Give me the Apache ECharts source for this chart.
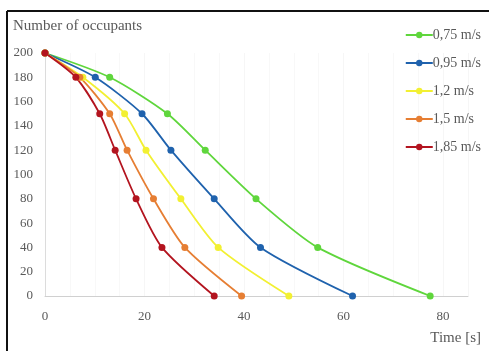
<!DOCTYPE html>
<html>
<head>
<meta charset="utf-8">
<script src="https://cdn.jsdelivr.net/npm/echarts@6/dist/echarts.min.js"></script>
<style>html,body{margin:0;padding:0;background:#fff}#c{width:489px;height:351px}</style>
</head>
<body>
<div id="c"></div>
<script>
var seriesNames = ['0,75 m/s', '0,95 m/s', '1,2 m/s', '1,5 m/s', '1,85 m/s'];
var occupants = [200, 180, 150, 120, 80, 40, 0];
var time075 = [0, 13, 24.6, 32.2, 42.4, 54.8, 77.4];
var time095 = [0, 10.1, 19.5, 25.3, 34, 43.3, 61.8];
var time120 = [0, 7.6, 16, 20.3, 27.3, 34.8, 49];
var time150 = [0, 7, 13, 16.5, 21.8, 28.1, 39.5];
var time185 = [0, 6.2, 11, 14.1, 18.3, 23.5, 34];
var xTicks = [0, 20, 40, 60, 80];
var yTicks = [0, 20, 40, 60, 80, 100, 120, 140, 160, 180, 200];
var colors = ['#5fd63c', '#1f62ad', '#f2f032', '#e67e33', '#b3141f'];

var times = [time075, time095, time120, time150, time185];
var font = 'Liberation Serif';
var chart = echarts.init(document.getElementById('c'));
chart.setOption({
  animation: false,
  color: colors,
  grid: {left: 45, right: 21, top: 53, bottom: 55},
  textStyle: {fontFamily: font},
  legend: {
    orient: 'vertical', right: 3, top: 23, itemGap: 14,
    itemWidth: 27, itemHeight: 8,
    data: seriesNames,
    textStyle: {fontFamily: font, fontSize: 14, color: '#595959', padding: [0, 0, 0, -5]}
  },
  graphic: [
    {type: 'line', shape: {x1: 7, y1: 11, x2: 489, y2: 11}, style: {stroke: '#111', lineWidth: 2}},
    {type: 'line', shape: {x1: 7, y1: 11, x2: 7, y2: 351}, style: {stroke: '#111', lineWidth: 2}},
    {type: 'text', left: 13, top: 19, style: {text: 'Number of occupants', font: '15px "Liberation Serif"', fill: '#595959'}},
    {type: 'text', right: 8, top: 331, style: {text: 'Time [s]', font: '15px "Liberation Serif"', fill: '#595959'}}
  ],
  xAxis: {
    type: 'value', min: 0, max: 85, interval: 20,
    axisLine: {show: true, lineStyle: {color: '#d0d0d0', width: 1}},
    axisTick: {show: false},
    axisLabel: {showMaxLabel: false, fontFamily: font, fontSize: 13, color: '#595959', margin: 14,
      formatter: function (v) { return xTicks.indexOf(v) >= 0 ? String(v) : ''; }},
    splitLine: {show: true, lineStyle: {color: '#f6f6f6'}},
    minorSplitLine: {show: true, lineStyle: {color: '#f8f8f8'}},
    minorTick: {show: false, splitNumber: 4}
  },
  yAxis: {
    type: 'value', min: 0, max: 200, interval: 20,
    axisLine: {show: true, lineStyle: {color: '#dcdcdc'}},
    axisTick: {show: false},
    axisLabel: {fontFamily: font, fontSize: 13, color: '#595959', margin: 12,
      formatter: function (v) { return yTicks.indexOf(v) >= 0 ? String(v) : ''; }},
    splitLine: {show: false}
  },
  series: seriesNames.map(function (n, i) {
    return {
      name: n, type: 'line', smooth: 0.25,
      symbol: 'circle', symbolSize: 7,
      lineStyle: {width: 1.8, color: colors[i]},
      itemStyle: {color: colors[i]},
      data: times[i].map(function (t, j) { return [t, occupants[j]]; })
    };
  })
});
</script>
</body>
</html>
